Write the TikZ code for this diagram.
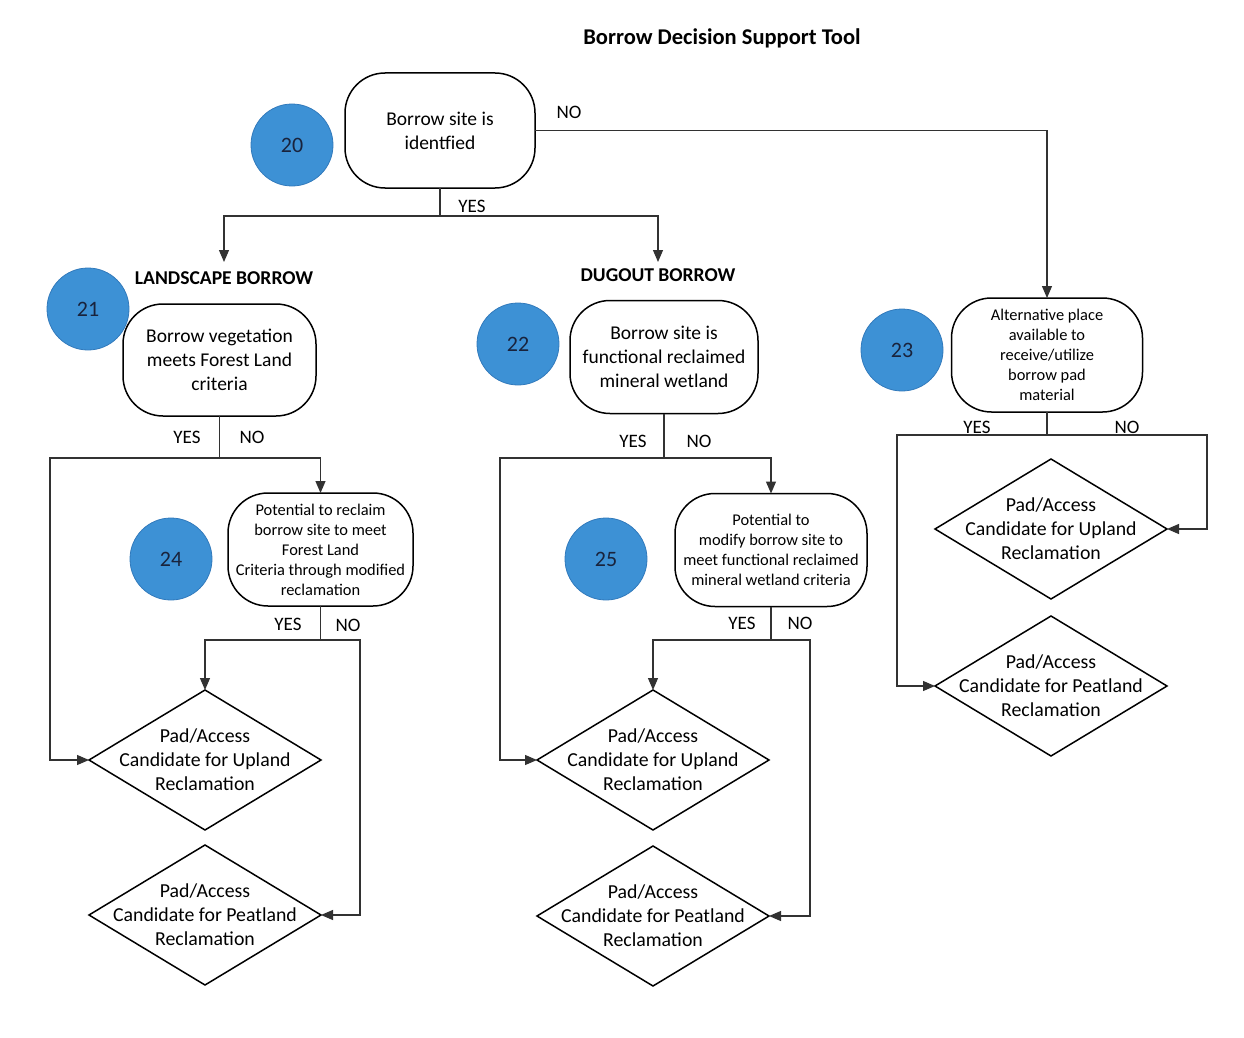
\documentclass[tikz,border=0pt]{standalone}
\usepackage{fontspec}
\setmainfont{Carlito}
\usetikzlibrary{shapes.geometric,arrows.meta}
\definecolor{dotblue}{RGB}{61,145,213}
\definecolor{dotedge}{RGB}{50,122,188}
\definecolor{numtxt}{RGB}{25,35,60}
\definecolor{linegray}{RGB}{50,50,50}
\begin{document}
\begin{tikzpicture}[x=1pt,y=-1pt,
  term/.style={draw=black, line width=1.5pt, rectangle, rounded corners=40pt, inner sep=0pt, outer sep=0pt, align=center},
  big/.style={font=\fontsize{19.5}{24}\selectfont},
  small/.style={font=\fontsize{16.4}{20}\selectfont},
  dia/.style={draw=black, line width=1.5pt, diamond, shape aspect=1.657, minimum width=232pt, minimum height=140pt, inner sep=-30pt, outer sep=0pt, align=center, font=\fontsize{19.8}{24}\selectfont},
  dot/.style={circle, fill=dotblue, draw=dotedge, line width=0.8pt, minimum size=82pt, inner sep=0pt, text=numtxt, font=\fontsize{22}{22}\selectfont},
  conn/.style={draw=linegray, line width=1.2pt},
  arr/.style={conn, -{Triangle[length=12pt,width=10pt]}},
  lbl/.style={font=\fontsize{19}{19}\selectfont, inner sep=0pt},
  head/.style={font=\bfseries\fontsize{19.6}{20}\selectfont, inner sep=0pt}
]
\useasboundingbox[fill=white] (0,0) rectangle (1244,1038);

% title and headings
\node[font=\bfseries\fontsize{22.5}{23}\selectfont, inner sep=0pt] (title) at (722,38) {Borrow Decision Support Tool};
\node[head] (hl) at (224,278) {LANDSCAPE BORROW};
\node[head] (hd) at (658,275) {DUGOUT BORROW};

% decision nodes
\node[term, big, minimum width=190pt, minimum height=115pt] (n20) at (440,130.5) {Borrow site is\\identfied};
\node[term, big, minimum width=193pt, minimum height=112pt] (n21) at (219.5,360) {Borrow vegetation\\meets Forest Land\\criteria};
\node[term, big, minimum width=188pt, minimum height=113pt] (n22) at (664,357) {Borrow site is\\functional reclaimed\\mineral wetland};
\node[term, small, minimum width=191pt, minimum height=114pt] (n23) at (1047,355) {Alternative place\\available to\\receive/utilize\\borrow pad\\material};
\node[term, small, minimum width=185pt, minimum height=113pt] (n24) at (320.5,549.5) {Potential to reclaim\\borrow site to meet\\Forest Land\\Criteria through modified\\reclamation};
\node[term, small, minimum width=192pt, minimum height=113pt] (n25) at (771,550) {Potential to\\modify borrow site to\\meet functional reclaimed\\mineral wetland criteria};

% numbered dots
\node[dot] (c20) at (292,145) {20};
\node[dot] (c21) at (88,309) {21};
\node[dot] (c22) at (518,344) {22};
\node[dot] (c23) at (902,350) {23};
\node[dot] (c24) at (171,559) {24};
\node[dot] (c25) at (606,559) {25};

% outcome diamonds
\node[dia] (du1) at (205,760) {Pad/Access\\Candidate for Upland\\Reclamation};
\node[dia] (dp1) at (205,915) {Pad/Access\\Candidate for Peatland\\Reclamation};
\node[dia] (du2) at (653,760) {Pad/Access\\Candidate for Upland\\Reclamation};
\node[dia] (dp2) at (653,916) {Pad/Access\\Candidate for Peatland\\Reclamation};
\node[dia] (du3) at (1051,529) {Pad/Access\\Candidate for Upland\\Reclamation};
\node[dia] (dp3) at (1051,686) {Pad/Access\\Candidate for Peatland\\Reclamation};

% bend coordinates
\coordinate (t21) at (224,262);
\coordinate (t22) at (658,262);
\coordinate (l21) at (50,458);
\coordinate (r24) at (360,640);
\coordinate (l22) at (500,458);
\coordinate (r25) at (810,640);
\coordinate (l23) at (897,435);
\coordinate (r23) at (1207,435);

% connectors
\draw[arr] (n20.south) -- ++(0,28) -| (t21);
\draw[arr] (n20.south) -- ++(0,28) -| (t22);
\draw[arr] (n20.east) -| (n23.north);

\draw[arr] (n21.south) |- (l21) |- (du1.west);
\draw[arr] (n21.south) -- ++(0,42) -| (n24.north);
\draw[arr] (n24.south) -- ++(0,34) -| (du1.north);
\draw[arr] (n24.south) |- (r24) |- (dp1.east);

\draw[arr] (n22.south) |- (l22) |- (du2.west);
\draw[arr] (n22.south) -- ++(0,44.5) -| (n25.north);
\draw[arr] (n25.south) -- ++(0,33.5) -| (du2.north);
\draw[arr] (n25.south) |- (r25) |- (dp2.east);

\draw[arr] (n23.south) |- (r23) |- (du3.east);
\draw[arr] (n23.south) |- (l23) |- (dp3.west);

% branch labels
\node[lbl] (y20) at (472,206) {YES};
\node[lbl] (no20) at (569,112) {NO};
\node[lbl] (y21) at (187,437) {YES};
\node[lbl] (no21) at (252,437) {NO};
\node[lbl] (y24) at (288,624) {YES};
\node[lbl] (no24) at (348,625) {NO};
\node[lbl] (y22) at (633,441) {YES};
\node[lbl] (no22) at (699,441) {NO};
\node[lbl] (y25) at (742,623) {YES};
\node[lbl] (no25) at (800,623) {NO};
\node[lbl] (y23) at (977,427) {YES};
\node[lbl] (no23) at (1127,427) {NO};
\end{tikzpicture}
\end{document}
